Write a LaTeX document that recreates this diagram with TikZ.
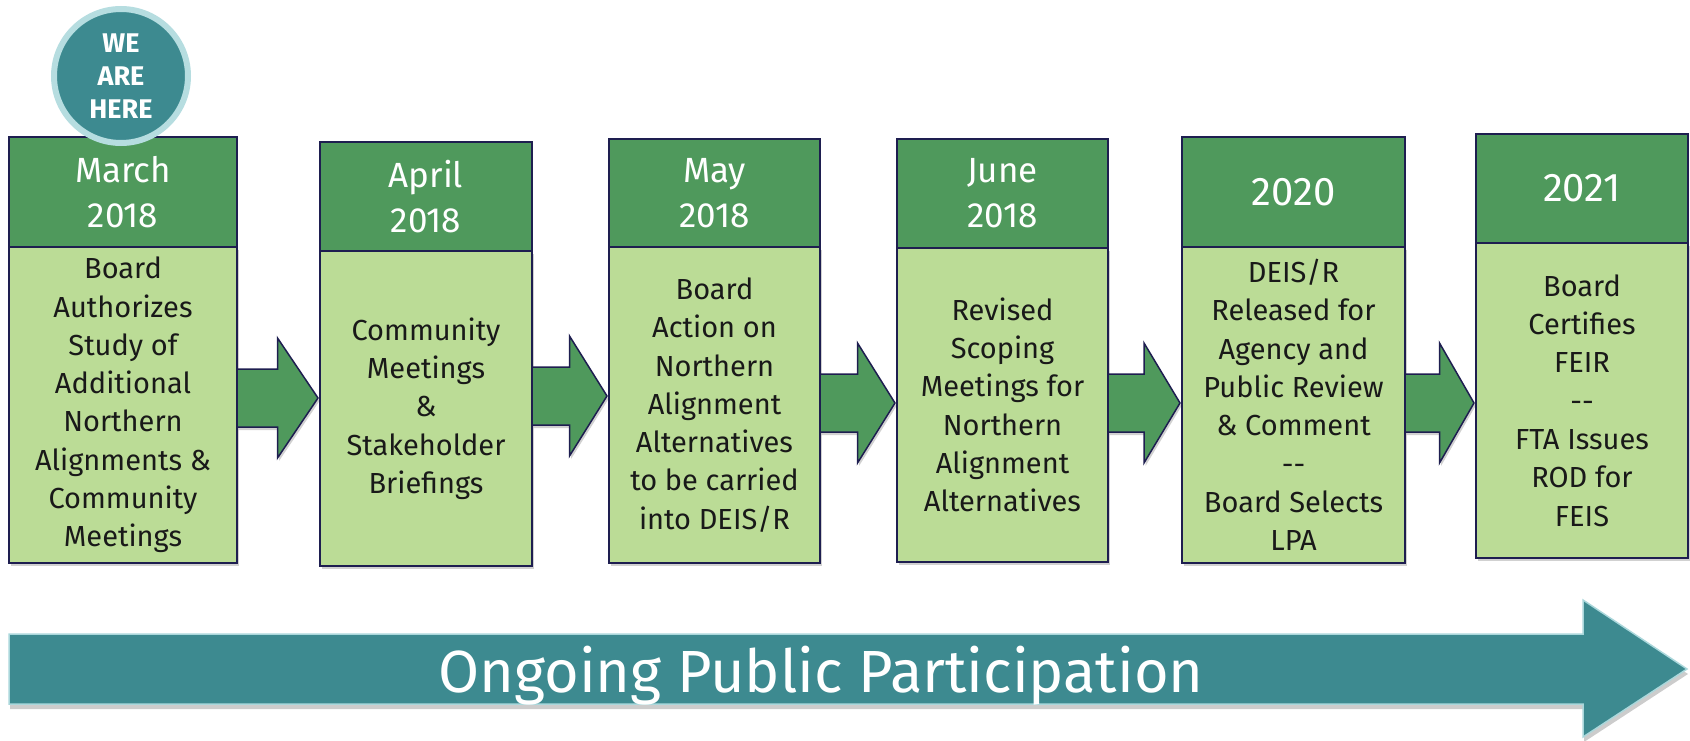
\documentclass[tikz,border=0pt]{standalone}
\usepackage{fontspec}
\setmainfont{Fira Sans}
\usepackage{xcolor}
\usepackage{tikz}
\usetikzlibrary{calc, shadows}

\definecolor{hdgreen}{HTML}{4F995C}
\definecolor{bdgreen}{HTML}{BBDC96}
\definecolor{navy}{HTML}{1E1E50}
\definecolor{teal}{HTML}{3D8A90}
\definecolor{tealedge}{HTML}{AAD7DB}
\definecolor{badgeedge}{HTML}{B6DDE0}

\begin{document}
\begin{tikzpicture}[
    x=1pt, y=-1pt,
    softshadow/.style={drop shadow={shadow xshift=1.5pt, shadow yshift=-3pt,
      opacity=0.18, fill=black}},
    hdbox/.style={draw=navy, line width=1.5pt, fill=hdgreen, text=white,
      align=center, inner sep=0pt, outer sep=0pt},
    bdbox/.style={draw=navy, line width=1.5pt, fill=bdgreen, text=black!90,
      align=center, inner sep=0pt, outer sep=0pt, softshadow,
      font=\fontsize{29}{38.3}\selectfont},
    blockarrow/.style={draw=navy, line width=1.5pt, fill=hdgreen,
      line join=miter, softshadow},
    herebadge/.style={circle, minimum size=134pt, inner sep=0pt,
      fill=teal, draw=badgeedge, line width=6pt, text=white, align=center,
      font=\fontsize{27}{33}\bfseries\selectfont},
]
\useasboundingbox (0,0) rectangle (1690,741);

% Milestone boxes: header (date) over body (activity)
\foreach \i/\xl/\xr/\yt/\ys/\yb/\hfs/\hd/\txt in {
  1/9/237/137/247/563/35/{March\\2018}/{Board\\Authorizes\\Study of\\Additional\\Northern\\Alignments \&\\Community\\Meetings},
  2/320/532/142/251/566/35/{April\\2018}/{Community\\Meetings\\\&\\Stakeholder\\Briefings},
  3/609/820/139/247/563/35/{May\\2018}/{Board\\Action on\\Northern\\Alignment\\Alternatives\\to be carried\\into DEIS/R},
  4/897/1108/139/248/562/35/{June\\2018}/{Revised\\Scoping\\Meetings for\\Northern\\Alignment\\Alternatives},
  5/1182/1405/137/247/563/40/{2020}/{DEIS/R\\Released for\\Agency and\\Public Review\\\& Comment\\-{}-\\Board Selects\\LPA},
  6/1476/1688/134/243/558/40/{2021}/{Board\\Certifies\\FEIR\\-{}-\\FTA Issues\\ROD for\\FEIS}} {
  \node[bdbox, minimum width={\xr-\xl}, minimum height={\yb-\ys}]
    (bd\i) at ({(\xl+\xr)/2},{(\ys+\yb)/2}) {\txt};
  \node[hdbox, minimum width={\xr-\xl}, minimum height={\ys-\yt},
    font=\fontsize{\hfs}{45}\selectfont]
    (hd\i) at ({(\xl+\xr)/2},{(\yt+\ys)/2}) {\hd};
}

% Block arrows between the boxes
\foreach \a/\b/\y in {1/2/398, 2/3/396, 3/4/403, 4/5/403, 5/6/403} {
  \coordinate (tl\a) at (bd\a.east |- 0,\y);
  \coordinate (tp\a) at ($(bd\b.west |- 0,\y)+(-2,0)$);
  \draw[blockarrow] ($(tl\a)+(0,-29)$) -- ($(tl\a)!0.5!(tp\a)+(0,-29)$)
    -- ($(tl\a)!0.5!(tp\a)+(0,-60)$) -- (tp\a)
    -- ($(tl\a)!0.5!(tp\a)+(0,60)$) -- ($(tl\a)!0.5!(tp\a)+(0,29)$)
    -- ($(tl\a)+(0,29)$) -- cycle;
}

% Badge on the first box
\node[herebadge] (here) at (121,76) {WE\\ARE\\HERE};

% Long arrow along the bottom
\draw[fill=teal, draw=tealedge, line width=1.5pt, line join=miter,
  drop shadow={shadow xshift=1pt, shadow yshift=-5pt, opacity=0.2, fill=black}]
  (9,634) -- (1583,634) -- (1583,600) -- (1687,669)
  -- (1583,737) -- (1583,704) -- (9,704) -- cycle;
\node[text=white, anchor=base, font=\fontsize{59.5}{70}\selectfont]
  (ongoing) at (821,692) {Ongoing Public Participation};

\end{tikzpicture}
\end{document}
